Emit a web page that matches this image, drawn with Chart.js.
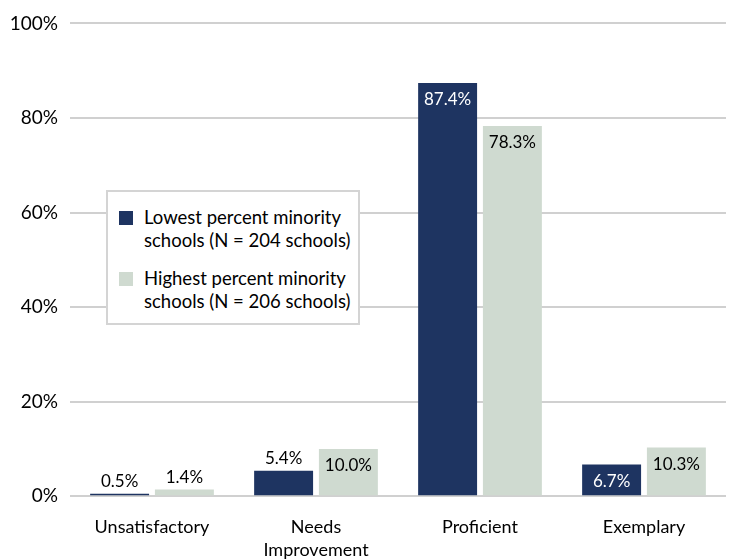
<!DOCTYPE html>
<html>
<head>
<meta charset="utf-8">
<script src="https://cdn.jsdelivr.net/npm/chart.js@4.4.0/dist/chart.umd.min.js"></script>
<style>
  html, body { margin: 0; padding: 0; background: #fff; overflow: hidden; }
  #wrap { position: relative; width: 731px; height: 583px; }
  #legend {
    position: absolute; left: 106px; top: 190px; width: 250px; height: 131px;
    border: 2px solid #d4d4d4; background: #fff;
    font-family: Lato, sans-serif; font-size: 18.5px; color: #000; line-height: 23px;
  }
  .item { position: absolute; left: 36px; white-space: nowrap; }
  .item span.box { position: absolute; left: -25px; top: 5px; width: 14px; height: 14px; }
</style>
</head>
<body>
<div id="wrap">
  <canvas id="chart"></canvas>
  <div id="legend"></div>
</div>
<script>
const categories = [['Unsatisfactory'], ['Needs', 'Improvement'], ['Proficient'], ['Exemplary']];
const lowestMinority = [0.5, 5.4, 87.4, 6.7];
const highestMinority = [1.4, 10.0, 78.3, 10.3];
const seriesNames = [
    ['Lowest percent minority', 'schools (N = 204 schools)'],
    ['Highest percent minority', 'schools (N = 206 schools)']
];
const yTicks = [0, 20, 40, 60, 80, 100];

const DARK = '#1e3461';
const LIGHT = '#cfdad0';
const FONT = 'Lato, sans-serif';

// value labels: inside the top of tall bars, above short ones
const barLabels = {
    id: 'barLabels',
    afterDatasetsDraw(chart) {
        const ctx = chart.ctx;
        ctx.save();
        ctx.font = '17px ' + FONT;
        ctx.textAlign = 'center';
        chart.data.datasets.forEach((ds, di) => {
            const meta = chart.getDatasetMeta(di);
            meta.data.forEach((bar, i) => {
                const txt = ds.data[i].toFixed(1) + '%';
                const h = bar.base - bar.y;
                if (h > 28) {
                    ctx.fillStyle = di === 0 ? '#ffffff' : '#000000';
                    ctx.textBaseline = 'middle';
                    ctx.fillText(txt, bar.x, bar.y + 17);
                } else {
                    ctx.fillStyle = '#000000';
                    ctx.textBaseline = 'bottom';
                    ctx.fillText(txt, bar.x, bar.y - 4);
                }
            });
        });
        ctx.restore();
    }
};

const CHART = document.querySelector('#chart');

let chart = new Chart(CHART, {
    type: 'bar',
    data: {
        labels: categories,
        datasets: [{
            label: seriesNames[0].join(' '),
            data: lowestMinority,
            backgroundColor: DARK,
            categoryPercentage: 0.79,
            barPercentage: 0.91
        }, {
            label: seriesNames[1].join(' '),
            data: highestMinority,
            backgroundColor: LIGHT,
            categoryPercentage: 0.79,
            barPercentage: 0.91
        }]
    },
    options: {
        responsive: true,
        maintainAspectRatio: false,
        animation: false,
        layout: { padding: { top: 14, right: 5, bottom: 2, left: 0 } },
        plugins: {
            legend: { display: false },
            tooltip: { enabled: false }
        },
        scales: {
            x: {
                grid: { display: false, drawTicks: false },
                border: { display: false },
                ticks: {
                    color: '#000',
                    font: { family: FONT, size: 18, lineHeight: 1.3 },
                    padding: 19,
                    maxRotation: 0,
                    autoSkip: false
                }
            },
            y: {
                min: 0,
                max: 100,
                afterBuildTicks(scale) {
                    scale.ticks = yTicks.map(v => ({ value: v }));
                },
                afterFit(scale) { scale.width = 70; },
                grid: { color: '#d0d0d0', lineWidth: 2, drawTicks: false },
                border: { display: false },
                ticks: {
                    color: '#000',
                    font: { family: FONT, size: 19 },
                    padding: 12,
                    callback: v => v + '%'
                }
            }
        }
    },
    plugins: [barLabels]
});

// legend box
const legend = document.querySelector('#legend');
const colors = [DARK, LIGHT];
seriesNames.forEach((lines, i) => {
    const d = document.createElement('div');
    d.className = 'item';
    d.style.top = (14 + i * 61) + 'px';
    d.innerHTML = '<span class="box" style="background:' + colors[i] + '"></span>' + lines.join('<br>');
    legend.appendChild(d);
});
</script>
</body>
</html>
